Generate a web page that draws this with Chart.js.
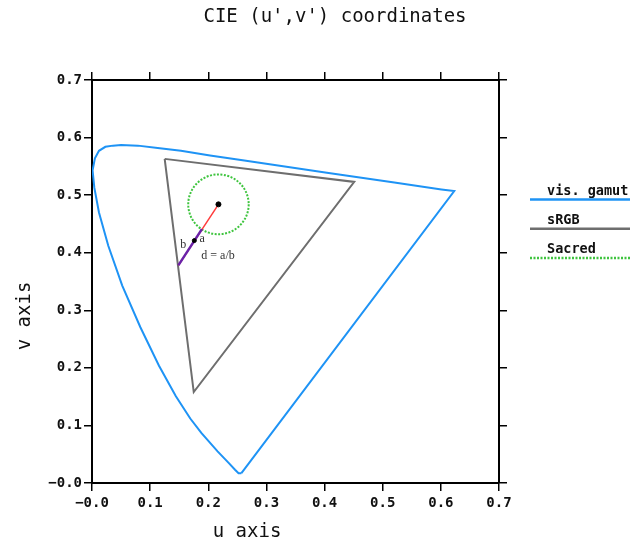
<!DOCTYPE html>
<html>
<head>
<meta charset="utf-8">
<script src="https://cdn.jsdelivr.net/npm/chart.js@4.4.1/dist/chart.umd.min.js"></script>
<style>
  html, body { margin: 0; padding: 0; background: #fff; }
</style>
</head>
<body>
<canvas id="cieChart" width="637" height="543"></canvas>
<script>
// Lugar espectral (gamut visible) en coordenadas u', v'
const gamutU = [0.257, 0.252, 0.246, 0.235, 0.216, 0.188, 0.169, 0.144, 0.115, 0.083, 0.052, 0.028, 0.012, 0.004, 0.001, 0.005, 0.012, 0.023, 0.036, 0.050, 0.079, 0.113, 0.153, 0.203, 0.262, 0.404, 0.520, 0.601, 0.623, 0.257];
const gamutV = [0.017, 0.017, 0.023, 0.035, 0.055, 0.087, 0.112, 0.151, 0.204, 0.271, 0.343, 0.412, 0.470, 0.513, 0.543, 0.564, 0.577, 0.584, 0.586, 0.587, 0.586, 0.582, 0.577, 0.569, 0.560, 0.539, 0.522, 0.510, 0.507, 0.017];

// Triangulo sRGB
const srgbU = [0.125, 0.451, 0.175, 0.125];
const srgbV = [0.563, 0.523, 0.158, 0.563];

// Circulo "Sacred": centro y radio
const sacredCenter = [0.2175, 0.484];
const sacredRadius = 0.052;

// Segmentos a / b
const edgePoint = [0.1485, 0.378];
const circlePoint = [0.189, 0.441];
const midPoint = [0.176, 0.421];

// Marcas de los ejes
const tickValues = [0, 0.1, 0.2, 0.3, 0.4, 0.5, 0.6, 0.7];
const tickLabels = ['\u22120.0', '0.1', '0.2', '0.3', '0.4', '0.5', '0.6', '0.7'];

// Anotaciones de texto
const notas = [
    { text: 'b', u: 0.157, v: 0.4145 },
    { text: 'a', u: 0.1895, v: 0.4235 },
    { text: 'd = a/b', u: 0.188, v: 0.395, align: 'left' }
];

const azul = '#1e93f5';
const gris = '#6e6e6e';
const verde = '#3ec43e';

const toPoints = (us, vs) => us.map((u, i) => ({ x: u, y: vs[i] }));

Chart.defaults.font.family = 'DejaVu Sans Mono';
Chart.defaults.color = '#111';

// Circulo, titulos, leyenda y notas
const dibujo = {
    id: 'dibujo',
    beforeDatasetsDraw(chart) {
        const { ctx, scales: { x, y } } = chart;
        const cx = x.getPixelForValue(sacredCenter[0]);
        const cy = y.getPixelForValue(sacredCenter[1]);
        const rx = x.getPixelForValue(sacredCenter[0] + sacredRadius) - cx;
        const ry = cy - y.getPixelForValue(sacredCenter[1] + sacredRadius);
        ctx.save();
        ctx.beginPath();
        ctx.ellipse(cx, cy, rx, ry, 0, 0, 2 * Math.PI);
        ctx.setLineDash([2, 1.5]);
        ctx.strokeStyle = verde;
        ctx.lineWidth = 2;
        ctx.stroke();
        ctx.restore();
    },
    afterDraw(chart) {
        const { ctx, scales: { x, y } } = chart;
        ctx.save();
        ctx.fillStyle = '#111';

        // titulo
        ctx.font = '19px "DejaVu Sans Mono"';
        ctx.textAlign = 'center';
        ctx.textBaseline = 'middle';
        ctx.fillText("CIE (u',v') coordinates", 335, 17);

        // titulos de ejes
        ctx.fillText('u axis', 247, 532);
        ctx.save();
        ctx.translate(25, 316);
        ctx.rotate(-Math.PI / 2);
        ctx.fillText('v axis', 0, 0);
        ctx.restore();

        // leyenda
        const items = chart.data.datasets.filter(d => d.enLeyenda);
        ctx.font = 'bold 13.5px "DejaVu Sans Mono"';
        ctx.textAlign = 'left';
        items.forEach((d, i) => {
            const ty = 191 + i * 29.3;
            ctx.fillStyle = '#111';
            ctx.fillText(d.label, 547, ty);
            ctx.beginPath();
            ctx.moveTo(530, ty + 8.5);
            ctx.lineTo(630, ty + 8.5);
            ctx.strokeStyle = d.borderColor;
            ctx.lineWidth = 2.5;
            ctx.setLineDash(d.borderDash || []);
            ctx.stroke();
        });
        ctx.setLineDash([]);

        // notas
        ctx.font = '12px "Liberation Serif"';
        ctx.fillStyle = '#333';
        notas.forEach(n => {
            ctx.textAlign = n.align || 'center';
            ctx.fillText(n.text, x.getPixelForValue(n.u), y.getPixelForValue(n.v));
        });
        ctx.restore();
    }
};

const ejeX = (pos, alto, conTexto) => ({
    type: 'linear',
    position: pos,
    min: 0,
    max: 0.7,
    grid: { display: true, drawOnChartArea: false, drawTicks: true, tickLength: 8, color: '#000', lineWidth: 1.5 },
    border: { display: true, color: '#000', width: 2 },
    ticks: {
        display: conTexto,
        padding: 4,
        font: { size: 14, weight: 'bold' },
        color: '#111',
        maxRotation: 0,
        callback: (v) => tickLabels[tickValues.indexOf(Math.round(v * 10) / 10)]
    },
    afterBuildTicks: s => { s.ticks = tickValues.map(v => ({ value: v })); },
    afterFit: s => { s.height = alto; }
});

const ejeY = (pos, ancho, conTexto) => ({
    type: 'linear',
    position: pos,
    min: 0,
    max: 0.7,
    grid: { display: true, drawOnChartArea: false, drawTicks: true, tickLength: 8, color: '#000', lineWidth: 1.5 },
    border: { display: true, color: '#000', width: 2 },
    ticks: {
        display: conTexto,
        padding: 2,
        font: { size: 14, weight: 'bold' },
        color: '#111',
        callback: (v) => tickLabels[tickValues.indexOf(Math.round(v * 10) / 10)]
    },
    afterBuildTicks: s => { s.ticks = tickValues.map(v => ({ value: v })); },
    afterFit: s => { s.width = ancho; }
});

const ctx = document.getElementById('cieChart').getContext('2d');
new Chart(ctx, {
    type: 'scatter',
    data: {
        datasets: [
            {
                label: 'vis. gamut',
                enLeyenda: true,
                data: toPoints(gamutU, gamutV),
                showLine: true,
                borderColor: azul,
                borderWidth: 2,
                pointRadius: 0,
                tension: 0,
                order: 5
            },
            {
                label: 'sRGB',
                enLeyenda: true,
                data: toPoints(srgbU, srgbV),
                showLine: true,
                borderColor: gris,
                borderWidth: 2,
                pointRadius: 0,
                order: 6
            },
            {
                label: 'Sacred',
                enLeyenda: true,
                data: [{ x: sacredCenter[0], y: sacredCenter[1] }],
                borderColor: verde,
                borderDash: [2, 1.5],
                pointRadius: 2.5,
                pointBackgroundColor: '#000',
                pointBorderColor: '#000',
                order: 1
            },
            {
                label: 'distancia',
                data: [{ x: sacredCenter[0], y: sacredCenter[1] }, { x: edgePoint[0], y: edgePoint[1] }],
                showLine: true,
                borderColor: '#ff3b3b',
                borderWidth: 1.5,
                pointRadius: 0,
                order: 4
            },
            {
                label: 'b',
                data: [{ x: circlePoint[0], y: circlePoint[1] }, { x: edgePoint[0], y: edgePoint[1] }],
                showLine: true,
                borderColor: '#6a22a8',
                borderWidth: 2.5,
                pointRadius: 0,
                order: 3
            },
            {
                label: 'punto',
                data: [{ x: midPoint[0], y: midPoint[1] }],
                pointRadius: 2,
                pointBackgroundColor: '#000',
                pointBorderColor: '#000',
                order: 2
            }
        ]
    },
    options: {
        responsive: false,
        animation: false,
        devicePixelRatio: 1,
        layout: { padding: 0 },
        plugins: {
            legend: { display: false },
            title: { display: false },
            tooltip: { enabled: false }
        },
        scales: {
            x: ejeX('bottom', 60, true),
            x2: ejeX('top', 80, false),
            y: ejeY('left', 92, true),
            y2: ejeY('right', 138, false)
        }
    },
    plugins: [dibujo]
});
</script>
</body>
</html>
